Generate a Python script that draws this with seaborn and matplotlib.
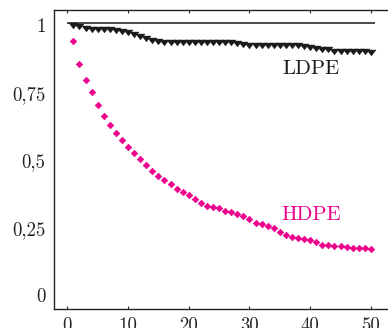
import numpy as np
import pandas as pd
import matplotlib
matplotlib.use("Agg")
import matplotlib.pyplot as plt
from matplotlib.path import Path
import seaborn as sns

# ---- data ----
x_vals = list(range(1, 51))
hdpe = [0.944, 0.857, 0.798, 0.754, 0.704, 0.666, 0.631, 0.603, 0.574, 0.550,
        0.529, 0.505, 0.482, 0.461, 0.443, 0.428, 0.412, 0.396, 0.382, 0.371,
        0.356, 0.344, 0.333, 0.328, 0.323, 0.314, 0.308, 0.302, 0.296, 0.284,
        0.267, 0.265, 0.257, 0.250, 0.236, 0.223, 0.217, 0.213, 0.210, 0.206,
        0.197, 0.188, 0.186, 0.184, 0.183, 0.179, 0.177, 0.177, 0.175, 0.173]
ldpe = [1.000, 0.997, 0.992, 0.988, 0.987, 0.986, 0.985, 0.984, 0.978, 0.975,
        0.968, 0.962, 0.954, 0.946, 0.942, 0.940, 0.940, 0.940, 0.940, 0.940,
        0.940, 0.940, 0.940, 0.940, 0.939, 0.939, 0.939, 0.933, 0.931, 0.929,
        0.927, 0.927, 0.927, 0.927, 0.927, 0.927, 0.927, 0.927, 0.923, 0.921,
        0.915, 0.913, 0.912, 0.907, 0.907, 0.907, 0.907, 0.907, 0.904, 0.903]
ref_level = 1.01
ref_span = [0, 50.7]
x_ticks = [0, 10, 20, 30, 40, 50]
y_ticks = [0, 0.25, 0.5, 0.75, 1]
y_tick_labels = ["0", "0,25", "0,5", "0,75", "1"]
series_names = ["LDPE", "HDPE"]
label_pos = {"LDPE": (40.1, 0.839), "HDPE": (40.1, 0.298)}

MAGENTA = "#ec008c"
BLACK = "#1a1a1a"

sns.set_theme(style="white")
plt.rcParams["font.family"] = ["cmr10", "DejaVu Serif"]
plt.rcParams["axes.formatter.use_mathtext"] = True

fig = plt.figure(figsize=(3.88, 3.28), dpi=100)
W, H = 388, 328
xlim = (-2.2, 54.0)
ylim = (-0.05, 1.057)
left_px, top_px, bottom_px = 54, 10, 309
px_per_x = 6.07
right_px = left_px + (xlim[1] - xlim[0]) * px_per_x
ax = fig.add_axes([left_px / W, (H - bottom_px) / H,
                   (right_px - left_px) / W, (bottom_px - top_px) / H])

df = pd.DataFrame({
    "x": x_vals * 2,
    "y": ldpe + hdpe,
    "series": [series_names[0]] * len(ldpe) + [series_names[1]] * len(hdpe),
})

# wide, flat down-pointing triangle like the reference
tri = Path([(-1.0, 0.55), (1.0, 0.55), (0.0, -0.75), (-1.0, 0.55)],
           [Path.MOVETO, Path.LINETO, Path.LINETO, Path.CLOSEPOLY])

ax.hlines(ref_level, ref_span[0], ref_span[1], color=BLACK, lw=1.1, zorder=1)

sns.scatterplot(data=df[df.series == "LDPE"], x="x", y="y", ax=ax,
                marker=tri, s=42, color=BLACK, edgecolor=BLACK, linewidth=0.3,
                legend=False, zorder=3)
sns.scatterplot(data=df[df.series == "HDPE"], x="x", y="y", ax=ax,
                marker="D", s=11, color=MAGENTA, edgecolor=MAGENTA, linewidth=0.5,
                legend=False, zorder=3)

ax.text(*label_pos["LDPE"], "LDPE", color=BLACK, fontsize=15,
        ha="center", va="center")
ax.text(*label_pos["HDPE"], "HDPE", color=MAGENTA, fontsize=15,
        ha="center", va="center")

ax.set_xlim(*xlim)
ax.set_ylim(*ylim)
ax.set_xticks(x_ticks)
ax.set_xticklabels([str(t) for t in x_ticks])
ax.set_yticks(y_ticks)
ax.set_yticklabels(y_tick_labels)
ax.set_xlabel("")
ax.set_ylabel("")

for s in ax.spines.values():
    s.set_visible(True)
    s.set_color("#222222")
    s.set_linewidth(1.0)

ax.tick_params(axis="x", which="both", direction="in", length=2.5, width=0.8,
               top=True, bottom=True, labelsize=13.5, pad=6, colors="#222222",
               labelcolor="#222222")
ax.tick_params(axis="y", which="both", length=0, labelsize=13.5, pad=6,
               labelcolor="#222222")
ax.grid(False)
ax.set_facecolor("white")

fig.savefig("out.png", dpi=100)
